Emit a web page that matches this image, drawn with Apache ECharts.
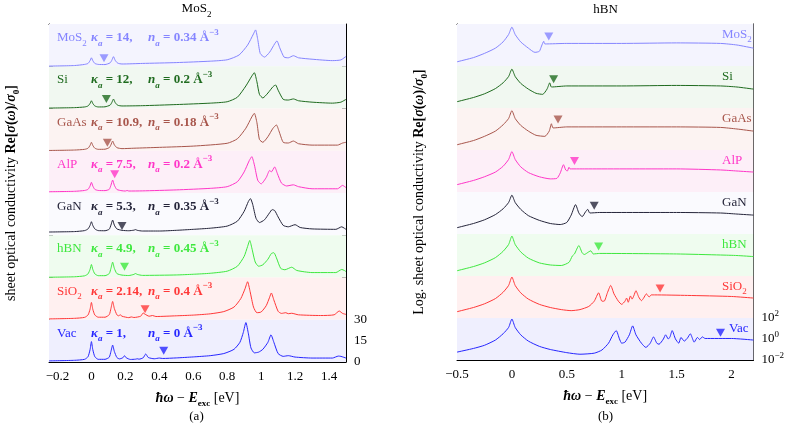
<!DOCTYPE html>
<html>
<head>
<meta charset="utf-8">
<script src="https://cdn.jsdelivr.net/npm/echarts@6.0.0/dist/echarts.min.js"></script>
<style>
  html, body { margin: 0; padding: 0; background: #fff; }
  #chart { width: 787px; height: 428px; }
</style>
</head>
<body>
<div id="chart"></div>
<script>
// substrates, top band to bottom band
const materials = ['MoS2', 'Si', 'GaAs', 'AlP', 'GaN', 'hBN', 'SiO2', 'Vac'];
const kappa = ['14', '12', '10.9', '7.5', '5.3', '4.9', '2.14', '1'];
const density = ['0.34', '0.2', '0.18', '0.2', '0.35', '0.45', '0.4', '0'];
const lineColors = ['#8585ff', '#1f6b1f', '#a8564c', '#ff36c8', '#25253a', '#3ee83e', '#ff3838', '#2626ff'];
const bandColors = ['#f4f4fe', '#f1f8f1', '#fcf3f2', '#fdeff8', '#fafafe', '#effcef', '#fff0f0', '#efeffe'];

// (a) linear conductivity, each band spans 0..30
const linMoS2 = [[-0.25,0.1],[-0.1,0.5],[-0.04,1.3],[-0.02,2],[-0.008,4],[0,6],[0.008,4],[0.02,2],[0.04,1.3],[0.08,1.2],[0.11,2.4],[0.12,4.2],[0.13,6.8],[0.14,4.2],[0.155,2.2],[0.18,1.6],[0.3,2],[0.5,2.6],[0.7,3.6],[0.8,4.6],[0.87,8],[0.92,15],[0.955,23],[0.967,25.8],[0.98,19],[0.995,9],[1.02,6.5],[1.05,10],[1.08,16],[1.093,18],[1.11,13],[1.135,6.5],[1.16,6],[1.19,7.5],[1.22,6],[1.3,5],[1.42,4],[1.47,4.5],[1.5,7]];
const linSi = [[-0.25,0.3],[-0.1,0.6],[-0.04,1.1],[-0.02,1.8],[-0.008,3.6],[0,5.5],[0.008,3.6],[0.02,1.8],[0.04,1.1],[0.08,1.2],[0.11,2.4],[0.12,4.2],[0.13,6.7],[0.14,4.2],[0.155,2.3],[0.18,1.8],[0.3,2],[0.5,2.8],[0.7,3.8],[0.8,4.8],[0.86,8],[0.91,16],[0.945,23],[0.96,25.4],[0.975,19],[0.99,10],[1.01,7.5],[1.04,11],[1.07,15.5],[1.085,16.7],[1.1,13],[1.13,6.5],[1.16,6],[1.19,6.8],[1.22,5.5],[1.3,4.5],[1.42,3.8],[1.47,4.5],[1.5,6.5]];
const linGaAs = [[-0.25,0.2],[-0.1,0.5],[-0.04,1],[-0.02,1.8],[-0.008,3.8],[0,6],[0.008,3.8],[0.02,1.8],[0.04,1],[0.08,1.1],[0.105,2.2],[0.115,4.2],[0.125,6.9],[0.135,4.2],[0.15,2.2],[0.18,1.5],[0.25,1.8],[0.4,2.4],[0.6,3.3],[0.8,5.3],[0.86,8.5],[0.91,16],[0.945,24],[0.96,26.6],[0.975,20],[0.99,8],[1.01,6],[1.04,10],[1.07,16],[1.09,18.3],[1.105,14],[1.13,6],[1.16,5.5],[1.19,6.9],[1.22,5],[1.3,4],[1.45,4],[1.48,5.5],[1.5,6]];
const linAlP = [[-0.25,0.9],[-0.1,1.2],[-0.04,1.8],[-0.02,2.6],[-0.008,5],[0,7.6],[0.008,5],[0.02,2.6],[0.04,1.8],[0.08,1.7],[0.105,2.6],[0.115,5.5],[0.125,9.2],[0.135,5.5],[0.15,2.5],[0.18,1.6],[0.2,1.4],[0.21,1.8],[0.22,1.4],[0.3,1.5],[0.5,2.2],[0.7,3.3],[0.8,4.5],[0.86,8],[0.9,15],[0.93,23],[0.945,25.8],[0.96,20],[0.98,9],[1.0,6.5],[1.03,11],[1.05,16],[1.06,15],[1.08,18.5],[1.095,14],[1.12,7],[1.15,5],[1.19,5.8],[1.22,4.5],[1.3,3],[1.45,3],[1.48,5.4],[1.5,3.8]];
const linGaN = [[-0.25,2.3],[-0.1,2.6],[-0.04,3.3],[-0.02,4.5],[-0.008,7],[0,9.6],[0.008,7],[0.02,4.5],[0.04,3.3],[0.08,3.2],[0.105,4.3],[0.115,7.2],[0.125,10.8],[0.135,7.2],[0.15,4.5],[0.18,3.5],[0.22,3.2],[0.25,3.6],[0.26,4],[0.27,3.5],[0.3,3],[0.4,3],[0.5,3.5],[0.6,4.2],[0.7,5],[0.8,6.5],[0.86,10],[0.9,17],[0.925,24],[0.937,26],[0.95,22],[0.97,12],[0.99,9],[1.02,11],[1.05,16],[1.065,18.2],[1.08,17.5],[1.1,13],[1.13,7],[1.16,6],[1.2,7.5],[1.23,5.5],[1.3,4.5],[1.44,4.2],[1.475,6],[1.49,5],[1.5,4.2]];
const linHBN = [[-0.25,0.2],[-0.1,0.5],[-0.04,1.2],[-0.02,2.6],[-0.008,5.8],[0,9.2],[0.008,5.8],[0.02,2.6],[0.04,1.3],[0.08,1.3],[0.105,2.8],[0.115,6.5],[0.125,10.9],[0.135,6.5],[0.15,2.8],[0.18,1.7],[0.22,1.4],[0.25,2.2],[0.26,2.8],[0.27,2.2],[0.3,1.5],[0.5,1.8],[0.6,2.3],[0.7,3],[0.8,4.5],[0.86,8],[0.9,15],[0.92,22],[0.933,26.3],[0.945,21],[0.965,11],[0.985,8],[1.01,9],[1.04,13],[1.06,17],[1.075,17.6],[1.09,14],[1.115,6.5],[1.14,5.5],[1.18,7.3],[1.21,5],[1.3,3.5],[1.44,3.5],[1.475,5.7],[1.49,5],[1.5,4.2]];
const linSiO2 = [[-0.25,0.6],[-0.1,1],[-0.04,1.7],[-0.02,3.4],[-0.008,7.5],[0,12.3],[0.008,7.5],[0.02,3.4],[0.04,1.8],[0.08,1.8],[0.105,3.6],[0.115,8],[0.125,13],[0.135,8],[0.15,3.5],[0.16,2.8],[0.17,3.5],[0.18,2.5],[0.22,1.5],[0.235,2],[0.25,1.6],[0.29,2.5],[0.305,4.8],[0.315,4],[0.34,2.5],[0.36,3],[0.38,2.3],[0.5,2.8],[0.6,3.3],[0.7,4.2],[0.78,5.8],[0.84,9],[0.88,15],[0.905,22],[0.92,27],[0.935,20],[0.955,9],[0.975,5],[1.0,5.5],[1.03,10],[1.05,16],[1.06,19],[1.075,14],[1.1,6],[1.12,4.5],[1.145,5],[1.16,4.3],[1.18,4.6],[1.22,3.5],[1.35,3],[1.43,3.5],[1.46,6.2],[1.48,4.5],[1.5,3.8]];
const linVac = [[-0.25,0.8],[-0.1,1.2],[-0.04,1.9],[-0.02,3.8],[-0.008,8.8],[0,14.5],[0.008,8.8],[0.02,3.8],[0.04,1.9],[0.08,1.9],[0.105,3.4],[0.115,7.5],[0.125,12],[0.135,7.5],[0.15,3.2],[0.165,2.2],[0.185,3],[0.195,4.5],[0.205,3],[0.23,1.8],[0.26,2],[0.27,2.3],[0.28,2],[0.305,3],[0.32,5.7],[0.335,3.2],[0.37,2.3],[0.4,2.8],[0.42,2.5],[0.5,2.9],[0.6,3.6],[0.7,4.5],[0.78,6],[0.84,9],[0.875,14],[0.895,21],[0.91,28],[0.925,20],[0.94,10],[0.96,6.5],[0.985,7],[1.01,9],[1.04,14],[1.058,19.3],[1.075,14],[1.1,6],[1.13,4],[1.16,4.5],[1.2,3.5],[1.3,2.8],[1.42,2.8],[1.455,4.2],[1.47,4],[1.5,2.8]];

// (b) log10 conductivity + 2, each band spans 1e-2..1e2 (0..4)
const logMoS2 = [[-0.5,0.4],[-0.35,0.8],[-0.25,1.2],[-0.15,1.7],[-0.08,2.3],[-0.03,3.0],[0,3.7],[0.03,3.0],[0.08,2.3],[0.15,1.7],[0.21,1.3],[0.25,1.4],[0.27,1.9],[0.29,2.35],[0.3,2.1],[0.5,2.15],[1,2.15],[1.5,2.2],[1.9,2.15],[2.05,2.0],[2.2,1.7]];
const logSi = [[-0.5,0.6],[-0.35,1.0],[-0.25,1.35],[-0.15,1.85],[-0.08,2.4],[-0.03,3.0],[0,3.7],[0.03,3.0],[0.08,2.35],[0.15,1.8],[0.22,1.4],[0.28,1.3],[0.32,1.8],[0.345,2.4],[0.36,2.0],[0.5,2.1],[1,2.1],[1.5,2.15],[1.9,2.1],[2.05,2.0],[2.2,1.8]];
const logGaAs = [[-0.5,0.5],[-0.35,0.9],[-0.25,1.3],[-0.15,1.8],[-0.08,2.4],[-0.03,3.0],[0,3.75],[0.03,3.0],[0.08,2.35],[0.15,1.8],[0.22,1.4],[0.3,1.3],[0.34,1.8],[0.36,2.5],[0.375,2.1],[0.5,2.2],[1,2.2],[1.5,2.2],[1.9,2.15],[2.05,2.0],[2.2,1.8]];
const logAlP = [[-0.5,0.7],[-0.35,1.1],[-0.25,1.45],[-0.15,1.9],[-0.08,2.45],[-0.03,3.1],[0,3.85],[0.03,3.1],[0.08,2.4],[0.15,1.85],[0.25,1.45],[0.35,1.25],[0.41,1.3],[0.44,1.8],[0.47,2.6],[0.49,2.1],[0.505,2.0],[0.52,2.35],[0.53,2.2],[0.7,2.2],[1.5,2.2],[1.9,2.1],[2.05,2.0],[2.2,1.9]];
const logGaN = [[-0.5,0.6],[-0.35,1.0],[-0.25,1.35],[-0.15,1.85],[-0.08,2.4],[-0.03,3.0],[0,3.7],[0.03,3.0],[0.08,2.35],[0.15,1.75],[0.25,1.3],[0.35,1.0],[0.44,0.9],[0.5,1.1],[0.54,1.8],[0.58,2.8],[0.61,2.0],[0.64,1.65],[0.67,2.1],[0.69,2.35],[0.71,2.0],[0.8,2.05],[1.5,2.05],[1.9,2.0],[2.05,1.9],[2.2,1.8]];
const logHBN = [[-0.5,0.5],[-0.35,0.9],[-0.25,1.25],[-0.15,1.75],[-0.08,2.35],[-0.03,3.0],[0,3.8],[0.03,3.0],[0.08,2.3],[0.15,1.7],[0.25,1.25],[0.35,1.05],[0.45,1.0],[0.52,1.3],[0.55,1.9],[0.57,2.1],[0.61,2.9],[0.64,2.2],[0.66,2.05],[0.7,2.3],[0.72,2.4],[0.74,2.1],[0.8,2.15],[1.5,2.1],[1.9,2.0],[2.05,1.95],[2.2,1.85]];
const logSiO2 = [[-0.5,0.6],[-0.35,1.0],[-0.25,1.35],[-0.15,1.85],[-0.08,2.45],[-0.03,3.1],[0,3.9],[0.03,3.1],[0.08,2.4],[0.15,1.8],[0.25,1.3],[0.35,1.0],[0.45,0.8],[0.54,0.7],[0.62,0.8],[0.7,1.1],[0.75,1.6],[0.79,2.4],[0.82,1.6],[0.84,1.6],[0.87,2.4],[0.9,3.1],[0.93,2.3],[0.97,1.6],[1.0,1.3],[1.03,1.6],[1.045,1.9],[1.06,1.5],[1.08,2.1],[1.095,1.8],[1.11,2.1],[1.13,2.6],[1.155,2.0],[1.18,1.65],[1.2,1.9],[1.225,2.3],[1.25,2.0],[1.27,2.2],[1.3,2.2],[1.6,2.15],[2.0,2.05],[2.2,1.9]];
const logVac = [[-0.5,0.75],[-0.35,1.1],[-0.25,1.4],[-0.15,1.9],[-0.08,2.5],[-0.03,3.1],[0,3.9],[0.03,3.1],[0.08,2.4],[0.15,1.8],[0.25,1.3],[0.35,1.0],[0.5,0.7],[0.62,0.55],[0.75,0.65],[0.82,0.95],[0.88,1.6],[0.92,2.4],[0.95,2.8],[0.98,2.0],[1.0,1.6],[1.03,1.7],[1.07,2.4],[1.1,3.25],[1.13,2.4],[1.18,1.6],[1.22,1.2],[1.26,1.6],[1.29,2.2],[1.32,1.6],[1.34,1.5],[1.38,2.0],[1.4,2.4],[1.425,2.0],[1.44,2.2],[1.46,2.8],[1.49,2.0],[1.52,1.6],[1.54,2.15],[1.57,1.8],[1.6,2.1],[1.625,2.5],[1.65,1.9],[1.66,1.7],[1.69,2.15],[1.71,1.95],[1.735,2.2],[1.76,2.05],[2.0,2.05],[2.2,1.9]];

// triangle markers
const linMarkX = [0.074, 0.088, 0.094, 0.137, 0.18, 0.195, 0.316, 0.426];
const linMarkY = [5.6, 6.7, 5.7, 13.3, 6.6, 7.7, 7.4, 8.0];
const logMarkX = [0.336, 0.38, 0.42, 0.57, 0.75, 0.79, 1.35, 1.9];
const logMarkY = [2.8, 2.75, 2.9, 2.95, 2.7, 2.8, 2.8, 2.6];

const linCurves = [linMoS2, linSi, linGaAs, linAlP, linGaN, linHBN, linSiO2, linVac];
const logCurves = [logMoS2, logSi, logGaAs, logAlP, logGaN, logHBN, logSiO2, logVac];

const FONT = '"Liberation Serif", "DejaVu Serif", serif';
const LIN_BAND = 30, LOG_BAND = 4;
const NB = materials.length;
const GA = { left: 47, top: 24, width: 299, height: 338 };
const GB = { left: 457, top: 24, width: 297, height: 336 };

const chart = echarts.init(document.getElementById('chart'));

function richDefs(color) {
  return {
    r:  { fontFamily: FONT, fontSize: 13, lineHeight: 20, color: color },
    rs: { fontFamily: FONT, fontSize: 9, lineHeight: 10, verticalAlign: 'bottom', color: color },
    k:  { fontFamily: FONT, fontSize: 13, lineHeight: 20, fontWeight: 'bold', fontStyle: 'italic', color: color },
    ks: { fontFamily: FONT, fontSize: 9, lineHeight: 10, fontWeight: 'bold', fontStyle: 'italic', verticalAlign: 'bottom', color: color },
    b:  { fontFamily: FONT, fontSize: 13, lineHeight: 20, fontWeight: 'bold', color: color },
    bp: { fontFamily: FONT, fontSize: 9, lineHeight: 10, fontWeight: 'bold', verticalAlign: 'top', color: color }
  };
}
// chemical formula: trailing digit as subscript
function chem(name) {
  const m = name.match(/^(.*?)(\d+)$/);
  return m ? '{r|' + m[1] + '}{rs|' + m[2] + '}' : '{r|' + name + '}';
}
function txt(x, y, text, color, align) {
  return {
    type: 'text', x: x, y: y, silent: true, z: 100,
    style: {
      text: text, fill: color, font: '13px ' + FONT, lineHeight: 20,
      align: align || 'left', verticalAlign: 'middle',
      textAlign: align || 'left', textVerticalAlign: 'middle',
      rich: richDefs(color)
    }
  };
}
const minus = v => String(v).replace('-', '\u2212');

const axisLine = { show: true, onZero: false, lineStyle: { color: '#000', width: 1 } };
const tick = { show: true, inside: true, length: 4, lineStyle: { color: '#000', width: 1 } };
const labelStyle = { fontFamily: FONT, fontSize: 13, color: '#000' };
const nameRich = {
  i: { fontFamily: FONT, fontSize: 14, fontWeight: 'bold', fontStyle: 'italic', lineHeight: 20 },
  s: { fontFamily: FONT, fontSize: 9, fontWeight: 'bold', lineHeight: 10, verticalAlign: 'bottom' },
  bb: { fontFamily: FONT, fontSize: 14, fontWeight: 'bold', lineHeight: 20 }
};
const xName = '{i|\u0127\u03c9} \u2212 {i|E}{s|exc} [eV]';
const yNameA = 'sheet optical conductivity {bb|Re[}{i|\u03c3}{bb|(}{i|\u03c9}{bb|)/}{i|\u03c3}{s|0}{bb|]}';
const yNameB = 'Log. sheet optical conductivity {bb|Re[}{i|\u03c3}{bb|(}{i|\u03c9}{bb|)/}{i|\u03c3}{s|0}{bb|]}';
const nameStyle = { fontFamily: FONT, fontSize: 14, color: '#000', lineHeight: 20, rich: nameRich };

const xAxis = [
  { gridIndex: 0, type: 'value', position: 'bottom', min: -0.25, max: 1.5, splitNumber: 8,
    axisLine, axisTick: tick, splitLine: { show: false },
    axisLabel: Object.assign({ showMinLabel: false, showMaxLabel: false, margin: 8, formatter: minus }, labelStyle),
    name: xName, nameLocation: 'middle', nameGap: 25, nameTextStyle: nameStyle },
  { gridIndex: 0, type: 'value', position: 'top', min: -0.25, max: 1.5, splitNumber: 8,
    axisLine, axisTick: tick, splitLine: { show: false }, axisLabel: { show: false } },
  { gridIndex: 1, type: 'value', position: 'bottom', min: -0.5, max: 2.2, interval: 0.5,
    axisLine, axisTick: tick, splitLine: { show: false },
    axisLabel: Object.assign({ showMaxLabel: false, margin: 8, formatter: minus }, labelStyle),
    name: xName, nameLocation: 'middle', nameGap: 25, nameTextStyle: nameStyle },
  { gridIndex: 1, type: 'value', position: 'top', min: -0.5, max: 2.2, interval: 0.5,
    axisLine, axisTick: tick, splitLine: { show: false }, axisLabel: { show: false } }
];

const logLabels = { 0: '10{p|\u22122}', 2: '10{p|0}', 4: '10{p|2}' };
const yAxis = [
  { gridIndex: 0, type: 'value', position: 'left', min: 0, max: NB * LIN_BAND, interval: 5,
    axisLine, axisTick: tick, splitLine: { show: false }, axisLabel: { show: false },
    name: yNameA, nameLocation: 'middle', nameGap: 28, nameRotate: 90, nameTextStyle: nameStyle },
  { gridIndex: 0, type: 'value', position: 'right', min: 0, max: NB * LIN_BAND, interval: 5,
    axisLine, axisTick: tick, splitLine: { show: false },
    axisLabel: Object.assign({ margin: 8, formatter: v => (v === 0 || v === 15 || v === 30) ? String(v) : '' }, labelStyle) },
  { gridIndex: 1, type: 'value', position: 'left', min: 0, max: NB * LOG_BAND, interval: 1,
    axisLine, axisTick: tick, splitLine: { show: false }, axisLabel: { show: false },
    name: yNameB, nameLocation: 'middle', nameGap: 28, nameRotate: 90, nameTextStyle: nameStyle },
  { gridIndex: 1, type: 'value', position: 'right', min: 0, max: NB * LOG_BAND, interval: 1,
    axisLine, axisTick: tick, splitLine: { show: false },
    axisLabel: Object.assign({ margin: 8, lineHeight: 18, formatter: v => logLabels[v] || '',
      rich: { p: { fontFamily: FONT, fontSize: 9, lineHeight: 9, verticalAlign: 'top' } } }, labelStyle) }
];

const series = [];
const linMarks = [], logMarks = [];
const graphic = [];
materials.forEach((m, i) => {
  const k = NB - 1 - i;
  const color = lineColors[i];
  const linOff = k * LIN_BAND, logOff = k * LOG_BAND;
  series.push({
    type: 'line', xAxisIndex: 0, yAxisIndex: 0, silent: true, z: 3,
    data: linCurves[i].map(p => [p[0], p[1] + linOff]),
    symbol: 'none', showSymbol: false, smooth: 0.2,
    lineStyle: { color: color, width: 1 }, itemStyle: { color: color },
    markArea: { silent: true, itemStyle: { color: bandColors[i] }, label: { show: false },
      data: [[{ yAxis: linOff }, { yAxis: linOff + LIN_BAND }]] }
  });
  series.push({
    type: 'line', xAxisIndex: 2, yAxisIndex: 2, silent: true, z: 3,
    data: logCurves[i].map(p => [p[0], p[1] + logOff]),
    symbol: 'none', showSymbol: false, smooth: 0.2,
    lineStyle: { color: color, width: 1 }, itemStyle: { color: color },
    markArea: { silent: true, itemStyle: { color: bandColors[i] }, label: { show: false },
      data: [[{ yAxis: logOff }, { yAxis: logOff + LOG_BAND }]] }
  });
  linMarks.push({ value: [linMarkX[i], linMarkY[i] + linOff], itemStyle: { color: color } });
  logMarks.push({ value: [logMarkX[i], logMarkY[i] + logOff], itemStyle: { color: color } });

  // band labels, panel (a)
  const ya = GA.top + i * GA.height / NB + 13.7;
  graphic.push(txt(57, ya, chem(m), color));
  graphic.push(txt(91, ya, '{k|\u03ba}{ks|a}{b| = ' + kappa[i] + ',}', color));
  graphic.push(txt(148, ya, '{k|n}{ks|a}{b| = ' + density[i] + ' \u00c5}{bp|\u22123}', color));
  // band labels, panel (b)
  const yb = GB.top + i * GB.height / NB + 10.5;
  graphic.push(txt(m === 'Vac' ? 729 : 722, yb, chem(m), color));
});
series.push({ type: 'scatter', xAxisIndex: 0, yAxisIndex: 0, silent: true, z: 5,
  symbol: 'triangle', symbolRotate: 180, symbolSize: [9, 8], data: linMarks });
series.push({ type: 'scatter', xAxisIndex: 2, yAxisIndex: 2, silent: true, z: 5,
  symbol: 'triangle', symbolRotate: 180, symbolSize: [9, 8], data: logMarks });

// panel titles and captions
graphic.push(txt(GA.left + GA.width / 2, 9, chem('MoS2'), '#000', 'center'));
graphic.push(txt(GB.left + GB.width / 2, 10, '{r|hBN}', '#000', 'center'));
graphic.push(txt(GA.left + GA.width / 2, 417, '{r|(a)}', '#000', 'center'));
graphic.push(txt(GB.left + GB.width / 2, 417, '{r|(b)}', '#000', 'center'));

chart.setOption({
  animation: false,
  backgroundColor: '#fff',
  grid: [
    Object.assign({ containLabel: false }, GA),
    Object.assign({ containLabel: false }, GB)
  ],
  xAxis: xAxis,
  yAxis: yAxis,
  series: series,
  graphic: graphic
});
</script>
</body>
</html>
